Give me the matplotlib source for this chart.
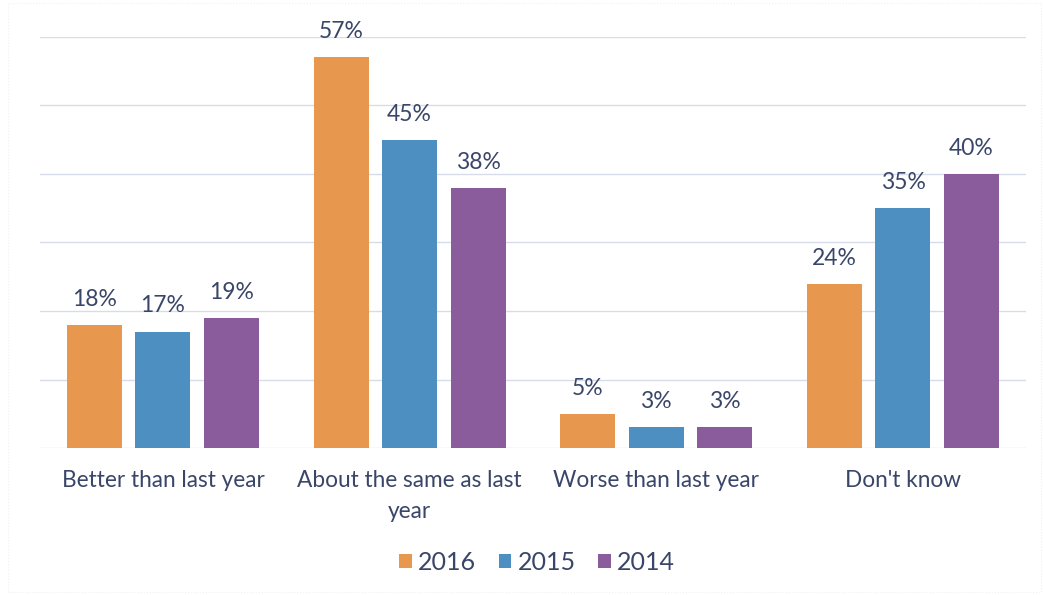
import numpy as np
import matplotlib.pyplot as plt

# Survey answers, share of respondents per year
categories = ["Better than last year", "About the same as last\nyear",
              "Worse than last year", "Don't know"]
years = ["2016", "2015", "2014"]
v2016 = [18, 57, 5, 24]
v2015 = [17, 45, 3, 35]
v2014 = [19, 38, 3, 40]

colors = ["#E8974F", "#4D8FC0", "#8A5C9C"]
text_col = "#3A4669"

plt.rcParams['font.family'] = ['Lato', 'DejaVu Sans']

fig = plt.figure(figsize=(10.43, 5.95), dpi=100)
ax = fig.add_axes([0.038, 0.247, 0.946, 0.691])

x = np.arange(len(categories))
w = 0.223
step = 0.278
for i, (vals, yr) in enumerate(zip([v2016, v2015, v2014], years)):
    pos = x + (i - 1) * step
    bars = ax.bar(pos, vals, width=w, color=colors[i], label=yr, zorder=3)
    for b, v in zip(bars, vals):
        ax.text(b.get_x() + b.get_width() / 2, v + 2.2, f"{v}%",
                ha='center', va='bottom', fontsize=16.5, color=text_col)

ax.set_xlim(-0.5, 3.5)
ax.set_ylim(0, 60)
ax.set_yticks(np.arange(0, 61, 10))
ax.yaxis.grid(True, color="#D6DCE9", linewidth=1, zorder=0)
ax.tick_params(axis='y', left=False, labelleft=False)
ax.tick_params(axis='x', length=0, pad=16, labelsize=16.3, labelcolor=text_col)
ax.set_xticks(x)
ax.set_xticklabels(categories, linespacing=1.55)
for s in ax.spines.values():
    s.set_visible(False)

fig.legend(loc='center', bbox_to_anchor=(0.515, 0.055), ncol=3,
           frameon=False, fontsize=18, labelcolor=text_col,
           handlelength=0.5, handleheight=0.5, handletextpad=0.25,
           columnspacing=0.9)

# faint chart-area border
fig.patches.append(plt.Rectangle((0.008, 0.005), 0.99, 0.99,
                                 transform=fig.transFigure, fill=False,
                                 edgecolor="#EEF0F5", linewidth=0.8,
                                 linestyle=':'))

fig.savefig("out.png", dpi=100)
